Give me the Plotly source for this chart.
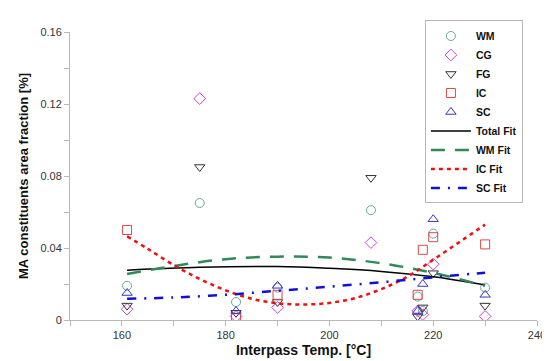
import plotly.graph_objects as go

# ---- data ----
temps_wm = [161, 175, 182, 190, 208, 217, 218, 220, 230]
wm = [0.019, 0.065, 0.010, 0.018, 0.061, 0.013, 0.005, 0.048, 0.018]

temps_cg = [161, 175, 182, 190, 208, 217, 218, 220, 230]
cg = [0.006, 0.123, 0.002, 0.007, 0.043, 0.005, 0.003, 0.031, 0.002]

temps_fg = [161, 175, 182, 190, 208, 217, 218, 220, 230]
fg = [0.008, 0.085, 0.004, 0.010, 0.079, 0.002, 0.007, 0.026, 0.008]

temps_ic = [161, 182, 190, 217, 218, 220, 230]
ic = [0.050, 0.001, 0.014, 0.014, 0.039, 0.046, 0.042]

temps_sc = [161, 182, 190, 217, 218, 220, 230]
sc = [0.015, 0.005, 0.019, 0.005, 0.020, 0.056, 0.014]

# fit curves
fit_x_total = [161, 175, 190, 200, 210, 220, 230]
fit_total = [0.0277, 0.0293, 0.0297, 0.0287, 0.0270, 0.0240, 0.0195]

fit_x_wm = [161, 170, 180, 190, 200, 210, 220, 230]
fit_wm = [0.0255, 0.0300, 0.0338, 0.0352, 0.0347, 0.0315, 0.0262, 0.0190]

fit_x_ic = [161, 165, 170, 175, 180, 185, 190, 195, 200, 205, 210, 215, 220, 225, 230]
fit_ic = [0.0465, 0.0395, 0.0305, 0.0228, 0.0165, 0.0118, 0.0093, 0.0086, 0.0095,
          0.0122, 0.0172, 0.0240, 0.0335, 0.0432, 0.0530]

fit_x_sc = [161, 170, 180, 190, 200, 210, 220, 230]
fit_sc = [0.0118, 0.0125, 0.0140, 0.0162, 0.0185, 0.0210, 0.0237, 0.0263]

x_ticks = [160, 180, 200, 220, 240]
y_ticks = [0, 0.04, 0.08, 0.12, 0.16]

fig = go.Figure()

def pts(x, y, name, sym, col):
    fig.add_trace(go.Scatter(x=x, y=y, mode="markers", name=name,
                             marker=dict(symbol=sym, size=9, color=col,
                                         line=dict(width=1, color=col))))

pts(temps_wm, wm, "WM", "circle-open", "#6aaa98")
pts(temps_cg, cg, "CG", "diamond-open", "#d23fd2")
pts(temps_fg, fg, "FG", "triangle-down-open", "#333333")
pts(temps_ic, ic, "IC", "square-open", "#d9484a")
pts(temps_sc, sc, "SC", "triangle-up-open", "#3535c8")

def fit(x, y, name, col, dash, w):
    fig.add_trace(go.Scatter(x=x, y=y, mode="lines", name=name,
                             line=dict(color=col, dash=dash, width=w, shape="spline")))

fit(fit_x_total, fit_total, "Total Fit", "#000000", "solid", 1.5)
fit(fit_x_wm, fit_wm, "WM Fit", "#2e8b57", "14px,10px", 2.5)
fit(fit_x_ic, fit_ic, "IC Fit", "#ee1111", "4px,4px", 2.5)
fit(fit_x_sc, fit_sc, "SC Fit", "#1010dd", "9px,8px,2px,8px", 2.5)

axis_common = dict(showline=True, linecolor="#b8b8b8", linewidth=1, showgrid=False,
                   zeroline=False, ticks="outside", ticklen=5, tickcolor="#b8b8b8",
                   tickfont=dict(family="Liberation Sans, Arial", size=11, color="#333333"))

fig.update_xaxes(range=[150, 240], tickvals=x_ticks, ticktext=[str(v) for v in x_ticks],
                 minor=dict(dtick=10, ticks="outside", ticklen=5, tickcolor="#b8b8b8", tick0=150),
                 title=dict(text="Interpass Temp. [°C]", standoff=4,
                            font=dict(family="Liberation Sans, Arial", size=14, color="#111111", weight="bold")),
                 **axis_common)
fig.update_yaxes(range=[0, 0.16], tickvals=y_ticks, ticktext=["0", "0.04", "0.08", "0.12", "0.16"],
                 minor=dict(dtick=0.02, ticks="outside", ticklen=5, tickcolor="#b8b8b8", tick0=0),
                 title=dict(text="MA constituents area fraction [%]", standoff=8,
                            font=dict(family="Liberation Sans, Arial", size=13, color="#111111", weight="bold")),
                 **axis_common)

fig.update_layout(
    width=550, height=361,
    margin=dict(l=62, r=13, t=17, b=49),
    paper_bgcolor="white", plot_bgcolor="white",
    showlegend=True,
    legend=dict(x=0.76, y=1.04, xanchor="left", yanchor="top",
                bgcolor="white", bordercolor="#b8b8b8", borderwidth=1,
                font=dict(family="Liberation Sans, Arial", size=10.5, color="#111111", weight="bold"),
                tracegroupgap=0, itemwidth=40),
)
try:
    fig.update_layout(legend_maxheight=300)
except Exception:
    pass

fig.write_html("out.html")
